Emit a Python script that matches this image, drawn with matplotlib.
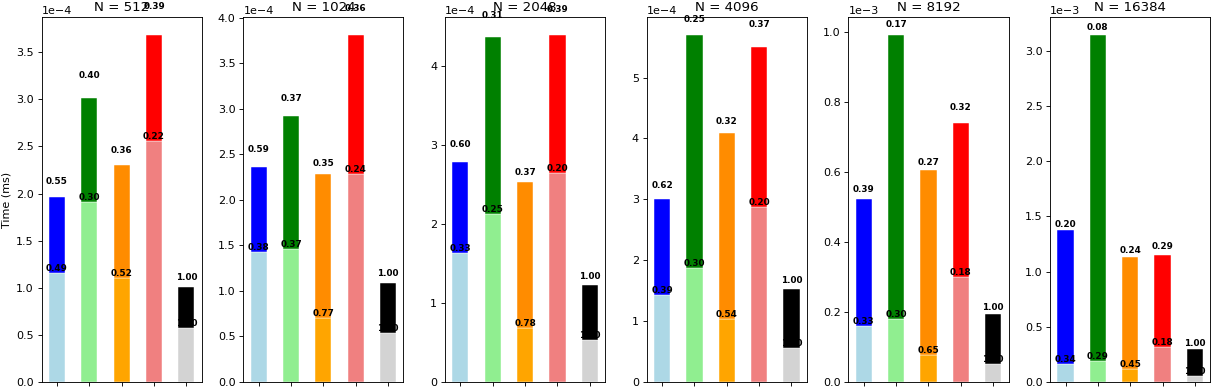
import numpy as np
import matplotlib
matplotlib.use("Agg")
import matplotlib.pyplot as plt

sizes = [512, 1024, 2048, 4096, 8192, 16384]
bottom_colors = ['lightblue', 'lightgreen', 'orange', 'lightcoral', 'lightgray']
top_colors = ['blue', 'green', 'darkorange', 'red', 'black']

# time of the first stage (light part of each bar), ms
stage1 = [
    [1.16e-4, 1.915e-4, 1.10e-4, 2.56e-4, 0.57e-4],
    [1.422e-4, 1.455e-4, 0.70e-4, 2.283e-4, 0.539e-4],
    [1.64e-4, 2.122e-4, 0.69e-4, 2.649e-4, 0.537e-4],
    [1.431e-4, 1.865e-4, 1.035e-4, 2.873e-4, 0.559e-4],
    [0.1586e-3, 0.1786e-3, 0.078e-3, 0.3005e-3, 0.0507e-3],
    [0.16e-3, 0.19e-3, 0.12e-3, 0.3146e-3, 0.054e-3],
]
# total time (both stages), ms
total = [
    [1.964e-4, 3.01e-4, 2.30e-4, 3.684e-4, 1.005e-4],
    [2.357e-4, 2.917e-4, 2.287e-4, 3.811e-4, 1.082e-4],
    [2.788e-4, 4.365e-4, 2.531e-4, 4.398e-4, 1.226e-4],
    [3.005e-4, 5.702e-4, 4.09e-4, 5.51e-4, 1.525e-4],
    [0.522e-3, 0.992e-3, 0.607e-3, 0.741e-3, 0.193e-3],
    [1.375e-3, 3.143e-3, 1.131e-3, 1.151e-3, 0.296e-3],
]
# spread of the total time (not drawn, only moves the label up)
spread = [
    [0.117e-4, 0.195e-4, 0.106e-4, 0.255e-4, 0.06e-4],
    [0.146e-4, 0.146e-4, 0.066e-4, 0.239e-4, 0.055e-4],
    [0.161e-4, 0.224e-4, 0.067e-4, 0.266e-4, 0.055e-4],
    [0.148e-4, 0.181e-4, 0.11e-4, 0.285e-4, 0.066e-4],
    [0.016e-3, 0.017e-3, 0.0086e-3, 0.031e-3, 0.0074e-3],
    [0.012e-3, 0.021e-3, 0.018e-3, 0.034e-3, 0.009e-3],
]
# speedup labels relative to the last bar
ratio_top = [
    [0.55, 0.40, 0.36, 0.39, 1.00],
    [0.59, 0.37, 0.35, 0.36, 1.00],
    [0.60, 0.31, 0.37, 0.39, 1.00],
    [0.62, 0.25, 0.32, 0.37, 1.00],
    [0.39, 0.17, 0.27, 0.32, 1.00],
    [0.20, 0.08, 0.24, 0.29, 1.00],
]
ratio_bottom = [
    [0.49, 0.30, 0.52, 0.22, 1.00],
    [0.38, 0.37, 0.77, 0.24, 1.00],
    [0.33, 0.25, 0.78, 0.20, 1.00],
    [0.39, 0.30, 0.54, 0.20, 1.00],
    [0.33, 0.30, 0.65, 0.18, 1.00],
    [0.34, 0.29, 0.45, 0.18, 1.00],
]

fig, axes = plt.subplots(1, 6, figsize=(15.175, 4.85), dpi=80)
fig.subplots_adjust(left=0.0343, right=0.9969, top=0.955, bottom=0.0155, wspace=0.26)

x = np.arange(5)
for i, ax in enumerate(axes):
    b = np.array(stage1[i])
    t = np.array(total[i])
    ax.bar(x, b, width=0.5, color=bottom_colors, edgecolor='white', linewidth=0.4)
    ax.bar(x, t - b, width=0.5, bottom=b, color=top_colors, edgecolor='white', linewidth=0.4)
    for j in range(5):
        ax.text(x[j], t[j] + spread[i][j], '%.2f' % ratio_top[i][j],
                ha='center', va='bottom', fontsize=8, fontweight='bold')
        ax.text(x[j], b[j], '%.2f' % ratio_bottom[i][j],
                ha='center', va='bottom', fontsize=8, fontweight='bold')
    ax.set_title('N = %d' % sizes[i])
    ax.set_xticks(x)
    ax.set_xticklabels([''] * 5)
    ax.ticklabel_format(axis='y', style='sci', scilimits=(0, 0))

axes[0].set_ylabel('Time (ms)')

fig.savefig('out.png', dpi=80)
